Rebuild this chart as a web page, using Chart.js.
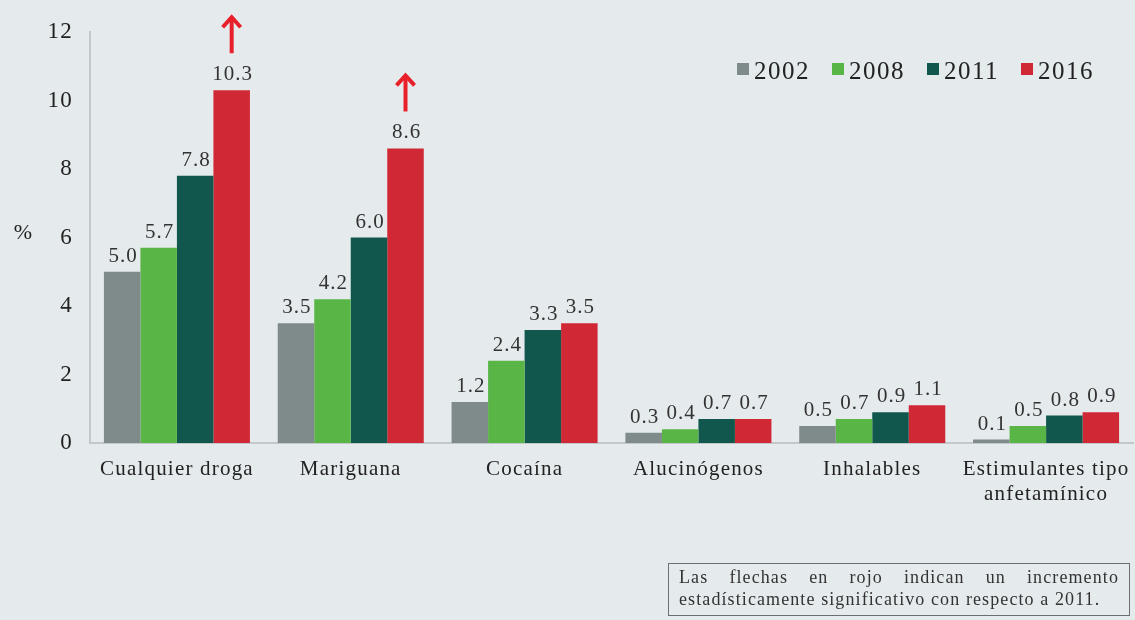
<!DOCTYPE html>
<html>
<head>
<meta charset="utf-8">
<script src="https://cdn.jsdelivr.net/npm/chart.js@4"></script>
<style>
  html, body { margin: 0; padding: 0; background: #e5eaed; }
  #wrap { position: relative; width: 1135px; height: 620px; }
  #nota {
    position: absolute; left: 668px; top: 563px; width: 440px; height: 49px;
    border: 1px solid #6b6f72; padding: 2px 10px 0 10px;
    font-family: "Liberation Serif", serif; font-size: 18px; line-height: 22px; color: #333;
    letter-spacing: 1.1px;
  }
  #nota .l1 { text-align: justify; text-align-last: justify; }
</style>
</head>
<body>
<div id="wrap">
  <canvas id="chart" width="1135" height="620"></canvas>
  <div id="nota">
    <div class="l1">Las flechas en rojo indican un incremento</div>
    <div>estadísticamente significativo con respecto a 2011.</div>
  </div>
</div>
<script>
const categories = ['Cualquier droga', 'Mariguana', 'Cocaína', 'Alucinógenos', 'Inhalables', ['Estimulantes tipo', 'anfetamínico']];
const years = ['2002', '2008', '2011', '2016'];
const v2002 = [5.0, 3.5, 1.2, 0.3, 0.5, 0.1];
const v2008 = [5.7, 4.2, 2.4, 0.4, 0.7, 0.5];
const v2011 = [7.8, 6.0, 3.3, 0.7, 0.9, 0.8];
const v2016 = [10.3, 8.6, 3.5, 0.7, 1.1, 0.9];
// categories where 2016 shows a significant increase vs 2011
const arrows2016 = [true, true, false, false, false, false];
const colors = ['#7f8a8a', '#5ab547', '#11574d', '#d02834'];

const FONT = '"Liberation Serif", serif';

const extras = {
  id: 'extras',
  beforeDraw(chart) {
    chart.ctx.letterSpacing = '1.2px';
  },
  afterDatasetsDraw(chart) {
    const ctx = chart.ctx;
    ctx.save();
    // value labels
    ctx.letterSpacing = '1px';
    ctx.font = '21px ' + FONT;
    ctx.fillStyle = '#333';
    ctx.textAlign = 'center';
    ctx.textBaseline = 'bottom';
    chart.data.datasets.forEach((ds, i) => {
      chart.getDatasetMeta(i).data.forEach((bar, j) => {
        ctx.fillText(ds.data[j].toFixed(1), bar.x + 1, bar.y - 5);
      });
    });
    // arrows
    const meta = chart.getDatasetMeta(3);
    ctx.strokeStyle = '#e8202a';
    ctx.lineWidth = 4;
    arrows2016.forEach((on, j) => {
      if (!on) return;
      const bar = meta.data[j];
      const bottom = bar.y - 37, tip = bar.y - 75;
      ctx.beginPath();
      ctx.moveTo(bar.x, bottom);
      ctx.lineTo(bar.x, tip + 3);
      ctx.stroke();
      ctx.beginPath();
      ctx.moveTo(bar.x - 9, tip + 12);
      ctx.lineTo(bar.x, tip + 2);
      ctx.lineTo(bar.x + 9, tip + 12);
      ctx.lineJoin = 'miter';
      ctx.stroke();
    });
    // y axis title
    ctx.letterSpacing = '0px';
    ctx.fillStyle = '#222';
    ctx.font = '22px ' + FONT;
    ctx.textAlign = 'center';
    ctx.textBaseline = 'middle';
    ctx.fillText('%', 23, 233);
    // legend
    const lx = [737, 832, 927, 1021];
    ctx.letterSpacing = '1.5px';
    ctx.font = '25px ' + FONT;
    ctx.textAlign = 'left';
    ctx.textBaseline = 'middle';
    years.forEach((y, i) => {
      ctx.fillStyle = colors[i];
      ctx.fillRect(lx[i], 63, 12, 12);
      ctx.fillStyle = '#222';
      ctx.fillText(y, lx[i] + 17, 72);
    });
    ctx.restore();
  }
};

new Chart(document.getElementById('chart'), {
  type: 'bar',
  data: {
    labels: categories,
    datasets: [v2002, v2008, v2011, v2016].map((d, i) => ({
      label: years[i],
      data: d,
      backgroundColor: colors[i],
      borderWidth: 0,
      barPercentage: 1.0,
      categoryPercentage: 0.84
    }))
  },
  options: {
    responsive: false,
    animation: false,
    layout: { padding: { top: 32, right: 2, left: 0, bottom: 0 } },
    plugins: { legend: { display: false }, tooltip: { enabled: false } },
    scales: {
      x: {
        grid: { display: false, drawTicks: false },
        border: { color: '#c3c8cb', width: 2 },
        ticks: { color: '#222', font: { family: FONT, size: 21, lineHeight: 1.2 }, padding: 14, maxRotation: 0, autoSkip: false },
        afterFit(scale) { scale.height = 177; }
      },
      y: {
        min: 0, max: 12,
        grid: { display: false, drawTicks: false },
        border: { color: '#c3c8cb', width: 2 },
        ticks: { stepSize: 2, color: '#222', font: { family: FONT, size: 23 }, padding: 17 },
        afterFit(scale) { scale.width = 90; }
      }
    }
  },
  plugins: [extras]
});
</script>
</body>
</html>
